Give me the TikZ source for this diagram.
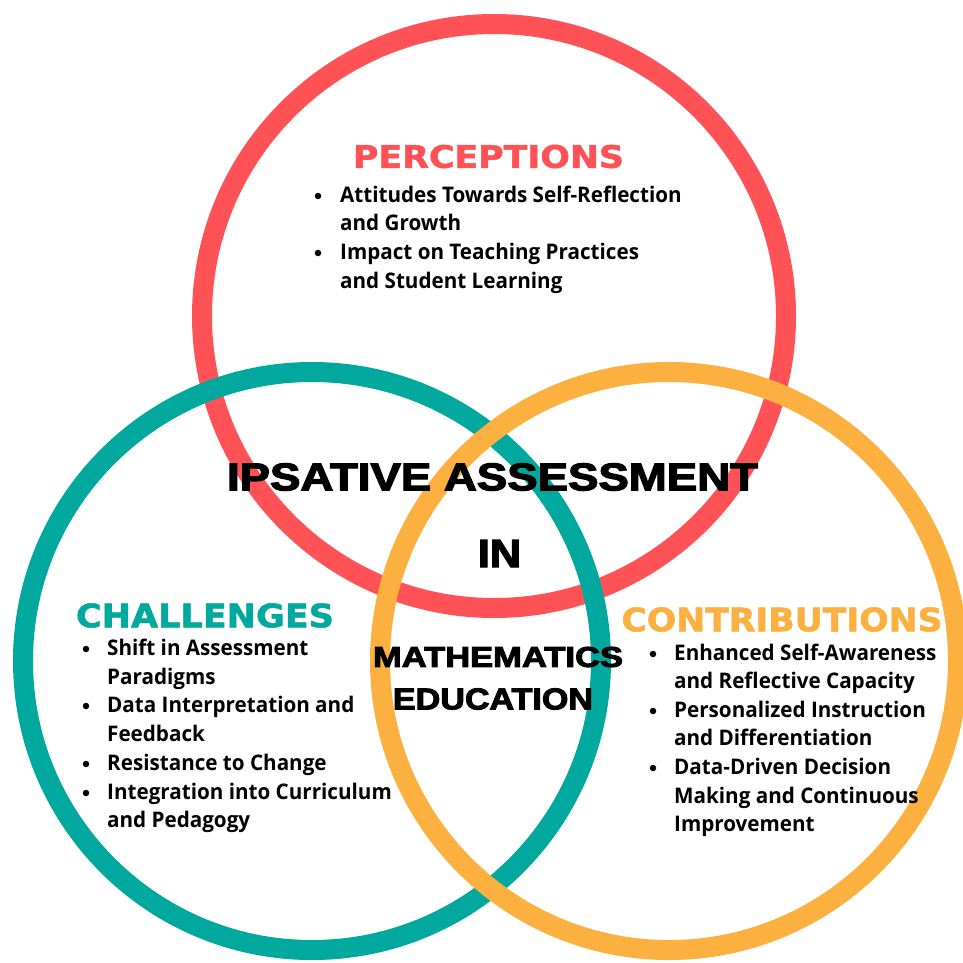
\documentclass[tikz,border=0pt]{standalone}
\usepackage{fontspec}
\usepackage{graphicx}
\setmainfont{Open Sans}[FakeStretch=0.96]
\newfontfamily\headfont{DejaVu Sans}[BoldFeatures={FakeBold=1.5}]
\newfontfamily\titlefont{Liberation Sans}[BoldFeatures={FakeBold=3}]
\definecolor{cred}{RGB}{255,82,87}
\definecolor{cteal}{RGB}{0,168,157}
\definecolor{corange}{RGB}{251,176,64}
\newcommand\fitbox[3]{\resizebox{#1pt}{#2pt}{#3}}
\tikzset{
  ring/.style={line width=20pt},
  body/.style={anchor=base west, inner sep=0pt, font=\fontsize{21.5}{28}\selectfont\bfseries, text=black},
  bul/.style={circle, fill=black, inner sep=0pt, minimum size=6.5pt},
  head/.style={inner sep=0pt, font=\headfont\bfseries},
  title/.style={inner sep=0pt, font=\titlefont\bfseries, text=black}
}
\begin{document}
\begin{tikzpicture}[x=1pt,y=-1pt]
\useasboundingbox (0,0) rectangle (963,962);
\clip (0,0) rectangle (963,962);
\fill[white] (0,0) rectangle (963,962);
% rings: red, then teal, then orange on top
\draw[ring, cred] (494,316) circle[radius=292];
\draw[ring, cteal] (312,661) circle[radius=289];
\draw[ring, corange] (669,661) circle[radius=289];
% headings
\node[head, text=cred] (hperc) at (488.5,156.5) {\fitbox{271}{23}{PERCEPTIONS}};
\node[head, text=cteal] (hchal) at (205,615.5) {\fitbox{258}{24}{CHALLENGES}};
\node[head, text=corange] (hcont) at (782,619.5) {\fitbox{321}{24}{CONTRIBUTIONS}};
% central title
\node[title] (t1) at (492.5,477) {\fitbox{531}{27}{IPSATIVE ASSESSMENT}};
\node[title] (t2) at (499.5,553.5) {\fitbox{43}{27}{IN}};
\node[title] (t3) at (498,657) {\fitbox{250}{20}{MATHEMATICS}};
\node[title] (t4) at (493,699) {\fitbox{200}{21}{EDUCATION}};
% perceptions list
\foreach \i/\yy/\tt in {1/202/Attitudes Towards Self-Reflection, 2/230/and Growth, 3/259/Impact on Teaching Practices, 4/288/and Student Learning}
  \node[body] (p\i) at (340,\yy) {\tt};
\foreach \i/\yy in {1/196, 3/253}
  \node[bul] (pb\i) at (318,\yy) {};
% challenges list
\foreach \i/\yy/\tt in {1/655/Shift in Assessment, 2/684/Paradigms, 3/712/Data Interpretation and, 4/741/Feedback, 5/770/Resistance to Change, 6/799/Integration into Curriculum, 7/827/and Pedagogy}
  \node[body] (c\i) at (107,\yy) {\tt};
\foreach \i/\yy in {1/649, 3/706, 5/764, 6/793}
  \node[bul] (cb\i) at (86,\yy) {};
% contributions list
\foreach \i/\yy/\tt in {1/660/Enhanced Self-Awareness, 2/688/and Reflective Capacity, 3/717/Personalized Instruction, 4/745/and Differentiation, 5/774/Data-Driven Decision, 6/803/Making and Continuous, 7/831/Improvement}
  \node[body] (n\i) at (674,\yy) {\tt};
\foreach \i/\yy in {1/654, 3/711, 5/768}
  \node[bul] (nb\i) at (653,\yy) {};
\end{tikzpicture}
\end{document}
